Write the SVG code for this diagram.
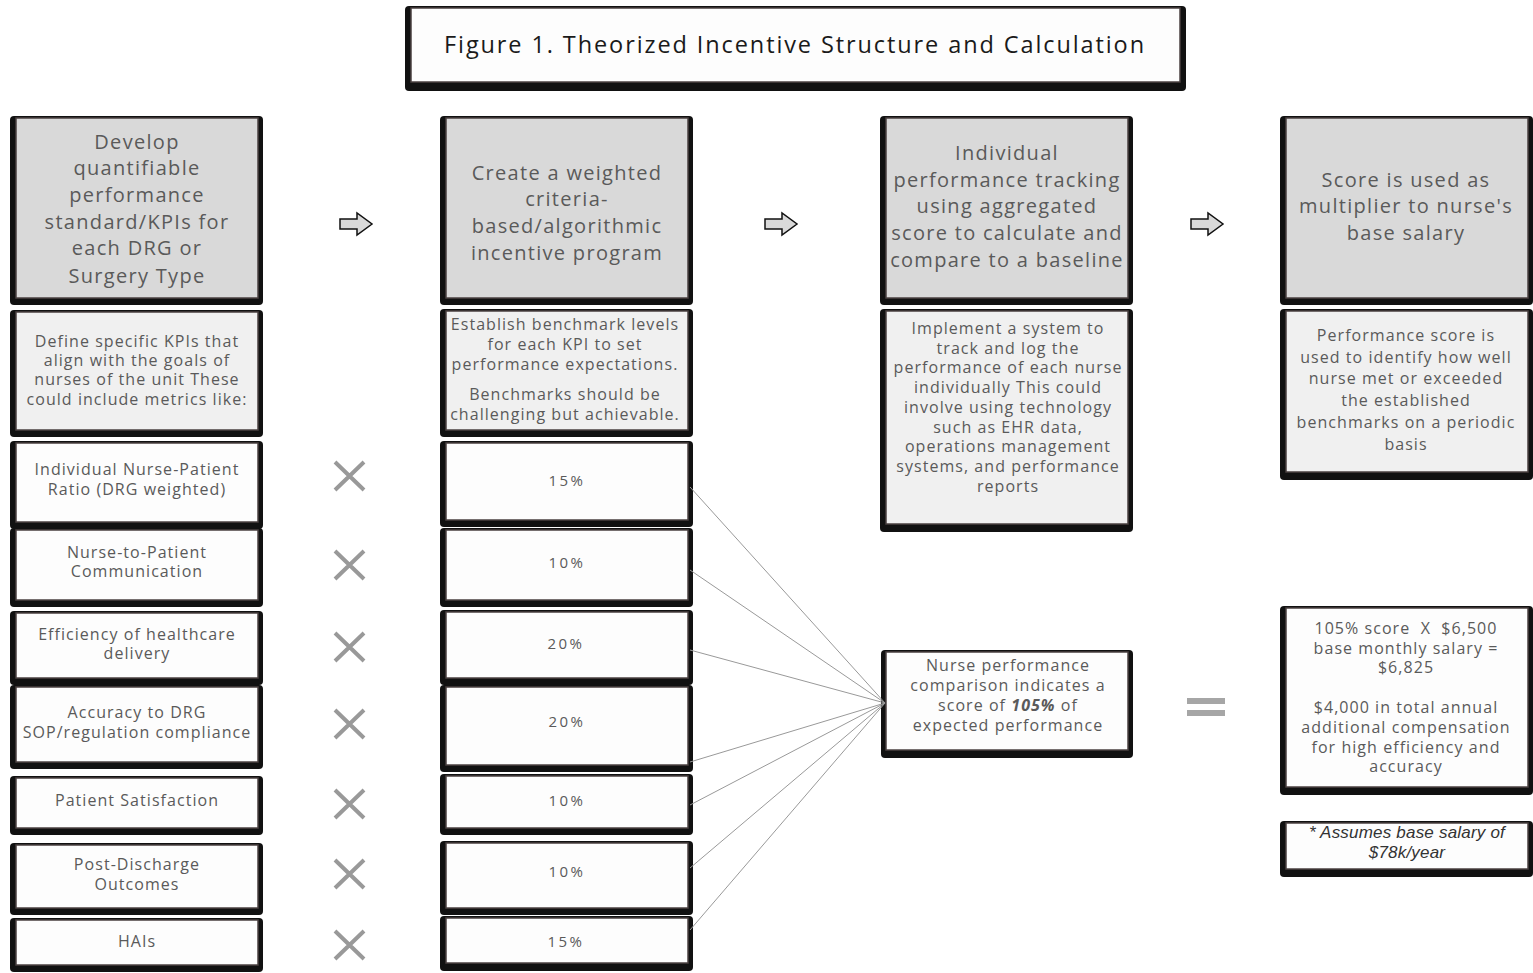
<svg xmlns="http://www.w3.org/2000/svg" width="1533" height="973" viewBox="0 0 1533 973">
<style>
.sh{fill:#111;}
.bx{stroke:#4a4040;stroke-width:1.5;}
.g{fill:#d9d9d9;}
.l{fill:#f0f0f0;}
.w{fill:#fdfdfd;}
text{font-family:"Open Sans","Liberation Sans",sans-serif;fill:#5a5a5a;text-anchor:middle;dominant-baseline:central;}
.t20{font-size:20px;letter-spacing:1.3px;}
.t16{font-size:16px;letter-spacing:1.05px;}
.t15{font-size:15px;letter-spacing:2.5px;}
.title{font-size:23.5px;fill:#1a1a1a;letter-spacing:1.9px;}
.foot{font-family:"Liberation Sans",Arial,sans-serif;font-style:italic;font-size:17px;fill:#333;letter-spacing:0.2px;}
.xm{stroke:#999;stroke-width:4;}
.arr{fill:#d9d9d9;stroke:#111;stroke-width:1.5;stroke-linejoin:miter;}
.cn{stroke:#999;stroke-width:1;fill:none;}
</style>
<rect width="1533" height="973" fill="#fff"/>

<g id="title">
<rect class="sh" x="405" y="6" width="781" height="85" rx="4"/>
<rect class="bx w" x="411" y="8" width="769" height="74"/>
<text class="title" x="795" y="44">Figure 1. Theorized Incentive Structure and Calculation</text>
</g>

<!-- Column 1 -->
<g id="c1-top">
<rect class="sh" x="10" y="116" width="253" height="189" rx="4"/>
<rect class="bx g" x="16" y="118" width="242" height="180"/>
<text class="t20" x="137"><tspan x="137" y="141">Develop</tspan><tspan x="137" y="167">quantifiable</tspan><tspan x="137" y="194">performance</tspan><tspan x="137" y="221">standard/KPIs for</tspan><tspan x="137" y="247">each DRG or</tspan><tspan x="137" y="275">Surgery Type</tspan></text>
</g>
<g id="c1-define">
<rect class="sh" x="10" y="310" width="253" height="127" rx="4"/>
<rect class="bx l" x="16" y="312" width="242" height="118"/>
<text class="t16" x="137"><tspan x="137" y="341">Define specific KPIs that</tspan><tspan x="137" y="360">align with the goals of</tspan><tspan x="137" y="379">nurses of the unit These</tspan><tspan x="137" y="399">could include metrics like:</tspan></text>
</g>
<g id="k1">
<rect class="sh" x="10" y="441" width="253" height="88" rx="4"/>
<rect class="bx w" x="16" y="443" width="242" height="79"/>
<text class="t16" x="137"><tspan x="137" y="469">Individual Nurse-Patient</tspan><tspan x="137" y="489">Ratio (DRG weighted)</tspan></text>
</g>
<g id="k2">
<rect class="sh" x="10" y="528" width="253" height="79" rx="4"/>
<rect class="bx w" x="16" y="530" width="242" height="70"/>
<text class="t16" x="137"><tspan x="137" y="552">Nurse-to-Patient</tspan><tspan x="137" y="571">Communication</tspan></text>
</g>
<g id="k3">
<rect class="sh" x="10" y="611" width="253" height="74" rx="4"/>
<rect class="bx w" x="16" y="613" width="242" height="65"/>
<text class="t16" x="137"><tspan x="137" y="634">Efficiency of healthcare</tspan><tspan x="137" y="653">delivery</tspan></text>
</g>
<g id="k4">
<rect class="sh" x="10" y="685" width="253" height="84" rx="4"/>
<rect class="bx w" x="16" y="687" width="242" height="75"/>
<text class="t16" x="137"><tspan x="137" y="712">Accuracy to DRG</tspan><tspan x="137" y="732">SOP/regulation compliance</tspan></text>
</g>
<g id="k5">
<rect class="sh" x="10" y="776" width="253" height="59" rx="4"/>
<rect class="bx w" x="16" y="778" width="242" height="50"/>
<text class="t16" x="137" y="800">Patient Satisfaction</text>
</g>
<g id="k6">
<rect class="sh" x="10" y="843" width="253" height="72" rx="4"/>
<rect class="bx w" x="16" y="845" width="242" height="63"/>
<text class="t16" x="137"><tspan x="137" y="864">Post-Discharge</tspan><tspan x="137" y="884">Outcomes</tspan></text>
</g>
<g id="k7">
<rect class="sh" x="10" y="918" width="253" height="54" rx="4"/>
<rect class="bx w" x="16" y="920" width="242" height="45"/>
<text class="t16" x="137" y="941">HAIs</text>
</g>

<!-- X marks -->
<g id="multiply-marks">
<path class="xm" d="M335 462 L364 490 M364 462 L335 490"/>
<path class="xm" d="M335 551 L364 579 M364 551 L335 579"/>
<path class="xm" d="M335 633 L364 661 M364 633 L335 661"/>
<path class="xm" d="M335 710 L364 738 M364 710 L335 738"/>
<path class="xm" d="M335 790 L364 818 M364 790 L335 818"/>
<path class="xm" d="M335 860 L364 888 M364 860 L335 888"/>
<path class="xm" d="M335 931 L364 959 M364 931 L335 959"/>
</g>

<!-- Arrows -->
<g id="arrows">
<path class="arr" d="M340 219 H357 V213 L372 224 L357 235 V229 H340 Z"/>
<path class="arr" d="M765 219 H782 V213 L797 224 L782 235 V229 H765 Z"/>
<path class="arr" d="M1191 219 H1208 V213 L1223 224 L1208 235 V229 H1191 Z"/>
</g>

<!-- Column 2 -->
<g id="c2-top">
<rect class="sh" x="440" y="116" width="253" height="189" rx="4"/>
<rect class="bx g" x="446" y="118" width="242" height="180"/>
<text class="t20" x="567"><tspan x="567" y="172">Create a weighted</tspan><tspan x="567" y="198">criteria-</tspan><tspan x="567" y="225">based/algorithmic</tspan><tspan x="567" y="252">incentive program</tspan></text>
</g>
<g id="c2-bench">
<rect class="sh" x="440" y="309" width="253" height="128" rx="4"/>
<rect class="bx l" x="446" y="311" width="242" height="119"/>
<text class="t16" x="565"><tspan x="565" y="324">Establish benchmark levels</tspan><tspan x="565" y="344">for each KPI to set</tspan><tspan x="565" y="364">performance expectations.</tspan><tspan x="565" y="394">Benchmarks should be</tspan><tspan x="565" y="414">challenging but achievable.</tspan></text>
</g>
<g id="w1">
<rect class="sh" x="440" y="441" width="253" height="86" rx="4"/>
<rect class="bx w" x="446" y="443" width="242" height="77"/>
<text class="t15" x="567" y="480">15%</text>
</g>
<g id="w2">
<rect class="sh" x="440" y="528" width="253" height="79" rx="4"/>
<rect class="bx w" x="446" y="530" width="242" height="70"/>
<text class="t15" x="567" y="562">10%</text>
</g>
<g id="w3">
<rect class="sh" x="440" y="610" width="253" height="75" rx="4"/>
<rect class="bx w" x="446" y="612" width="242" height="66"/>
<text class="t15" x="566" y="643">20%</text>
</g>
<g id="w4">
<rect class="sh" x="440" y="685" width="253" height="87" rx="4"/>
<rect class="bx w" x="446" y="687" width="242" height="78"/>
<text class="t15" x="567" y="721">20%</text>
</g>
<g id="w5">
<rect class="sh" x="440" y="774" width="253" height="61" rx="4"/>
<rect class="bx w" x="446" y="776" width="242" height="52"/>
<text class="t15" x="567" y="800">10%</text>
</g>
<g id="w6">
<rect class="sh" x="440" y="841" width="253" height="74" rx="4"/>
<rect class="bx w" x="446" y="843" width="242" height="65"/>
<text class="t15" x="567" y="871">10%</text>
</g>
<g id="w7">
<rect class="sh" x="440" y="916" width="253" height="55" rx="4"/>
<rect class="bx w" x="446" y="918" width="242" height="45"/>
<text class="t15" x="566" y="941">15%</text>
</g>

<!-- Column 3 -->
<g id="c3-top">
<rect class="sh" x="880" y="116" width="253" height="189" rx="4"/>
<rect class="bx g" x="886" y="118" width="242" height="180"/>
<text class="t20" x="1007"><tspan x="1007" y="152">Individual</tspan><tspan x="1007" y="179">performance tracking</tspan><tspan x="1007" y="205">using aggregated</tspan><tspan x="1007" y="232">score to calculate and</tspan><tspan x="1007" y="259">compare to a baseline</tspan></text>
</g>
<g id="c3-implement">
<rect class="sh" x="880" y="309" width="253" height="223" rx="4"/>
<rect class="bx l" x="886" y="311" width="242" height="213"/>
<text class="t16" x="1008"><tspan x="1008" y="328">Implement a system to</tspan><tspan x="1008" y="348">track and log the</tspan><tspan x="1008" y="367">performance of each nurse</tspan><tspan x="1008" y="387">individually This could</tspan><tspan x="1008" y="407">involve using technology</tspan><tspan x="1008" y="427">such as EHR data,</tspan><tspan x="1008" y="446">operations management</tspan><tspan x="1008" y="466">systems, and performance</tspan><tspan x="1008" y="486">reports</tspan></text>
</g>
<g id="c3-result">
<rect class="sh" x="881" y="650" width="252" height="108" rx="4"/>
<rect class="bx w" x="886" y="652" width="242" height="98"/>
<text class="t16" x="1008"><tspan x="1008" y="665">Nurse performance</tspan><tspan x="1008" y="685">comparison indicates a</tspan><tspan x="1008" y="705">score of <tspan font-style="italic" font-weight="bold">105%</tspan> of</tspan><tspan x="1008" y="725">expected performance</tspan></text>
</g>

<g id="connectors">
<line class="cn" x1="690" y1="487" x2="885" y2="703"/>
<line class="cn" x1="690" y1="570" x2="885" y2="703"/>
<line class="cn" x1="690" y1="650" x2="885" y2="703"/>
<line class="cn" x1="690" y1="762" x2="885" y2="703"/>
<line class="cn" x1="690" y1="805" x2="885" y2="703"/>
<line class="cn" x1="690" y1="868" x2="885" y2="703"/>
<line class="cn" x1="690" y1="930" x2="885" y2="703"/>
</g>

<!-- Equals -->
<g id="equals">
<rect x="1187" y="698" width="38" height="6" fill="#a6a6a6"/>
<rect x="1187" y="710" width="38" height="6" fill="#a6a6a6"/>
</g>

<!-- Column 4 -->
<g id="c4-top">
<rect class="sh" x="1280" y="116" width="253" height="189" rx="4"/>
<rect class="bx g" x="1286" y="118" width="242" height="180"/>
<text class="t20" x="1406"><tspan x="1406" y="179">Score is used as</tspan><tspan x="1406" y="205">multiplier to nurse's</tspan><tspan x="1406" y="232">base salary</tspan></text>
</g>
<g id="c4-score">
<rect class="sh" x="1280" y="309" width="253" height="171" rx="4"/>
<rect class="bx l" x="1286" y="311" width="242" height="161"/>
<text class="t16" x="1406"><tspan x="1406" y="335">Performance score is</tspan><tspan x="1406" y="357">used to identify how well</tspan><tspan x="1406" y="378">nurse met or exceeded</tspan><tspan x="1406" y="400">the established</tspan><tspan x="1406" y="422">benchmarks on a periodic</tspan><tspan x="1406" y="444">basis</tspan></text>
</g>
<g id="c4-calc">
<rect class="sh" x="1280" y="606" width="253" height="189" rx="4"/>
<rect class="bx w" x="1286" y="608" width="242" height="179"/>
<text class="t16" x="1406" xml:space="preserve"><tspan x="1406" y="628">105% score  X  $6,500</tspan><tspan x="1406" y="648">base monthly salary =</tspan><tspan x="1406" y="667">$6,825</tspan><tspan x="1406" y="707">$4,000 in total annual</tspan><tspan x="1406" y="727">additional compensation</tspan><tspan x="1406" y="747">for high efficiency and</tspan><tspan x="1406" y="766">accuracy</tspan></text>
</g>
<g id="c4-note">
<rect class="sh" x="1280" y="821" width="253" height="56" rx="4"/>
<rect class="bx w" x="1286" y="823" width="242" height="46"/>
<text class="foot" x="1407"><tspan x="1407" y="832">* Assumes base salary of</tspan><tspan x="1407" y="852">$78k/year</tspan></text>
</g>
</svg>
